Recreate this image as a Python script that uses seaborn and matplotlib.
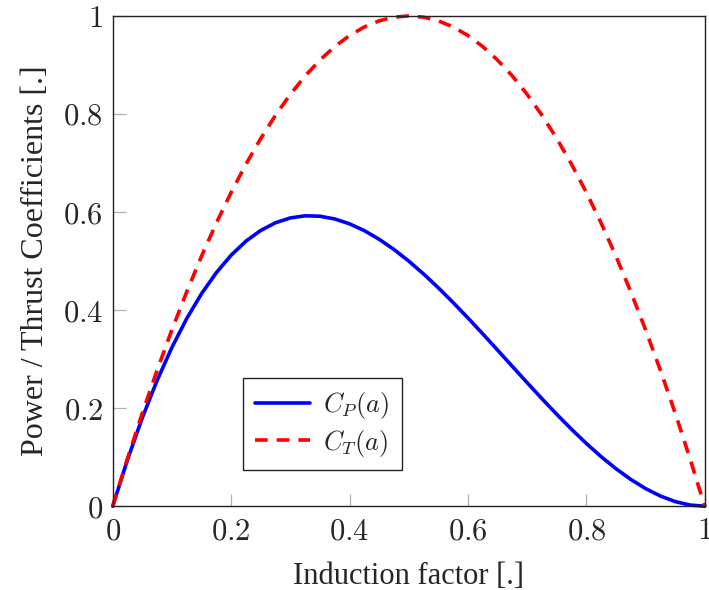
import matplotlib
matplotlib.use("Agg")
import matplotlib.pyplot as plt
import seaborn as sns
import pandas as pd

# induction factor samples
a_vals = [0, .025, .05, .075, .1, .125, .15, .175, .2, .225, .25, .275, .3, .325, .35,
          .375, .4, .425, .45, .475, .5, .525, .55, .575, .6, .625, .65, .675, .7, .725,
          .75, .775, .8, .825, .85, .875, .9, .925, .95, .975, 1]
cp_vals = [0, .0951, .1805, .2567, .324, .3828, .4335, .4764, .512, .5406, .5625, .5782,
           .588, .5923, .5915, .5859, .576, .5621, .5445, .5237, .5, .4738, .4455, .4154,
           .384, .3516, .3185, .2852, .252, .2193, .1875, .1569, .128, .1011, .0765, .0547,
           .036, .0208, .0095, .0024, 0]
ct_vals = [0, .0975, .19, .2775, .36, .4375, .51, .5775, .64, .6975, .75, .7975, .84, .8775,
           .91, .9375, .96, .9775, .99, .9975, 1, .9975, .99, .9775, .96, .9375, .91, .8775,
           .84, .7975, .75, .6975, .64, .5775, .51, .4375, .36, .2775, .19, .0975, 0]
x_ticks = [0, 0.2, 0.4, 0.6, 0.8, 1]
x_tick_labels = ["0", "0.2", "0.4", "0.6", "0.8", "1"]
y_ticks = [0, 0.2, 0.4, 0.6, 0.8, 1]
y_tick_labels = ["0", "0.2", "0.4", "0.6", "0.8", "1"]

sns.set_style("white")
plt.rcParams["mathtext.fontset"] = "cm"
plt.rcParams["font.family"] = ["Liberation Serif", "DejaVu Serif"]

fig = plt.figure(figsize=(7.09, 5.9), dpi=100)
ax = fig.add_axes([0.159, 0.142, 0.835, 0.831])

df = pd.DataFrame({"a": a_vals, "cp": cp_vals, "ct": ct_vals})
sns.lineplot(data=df, x="a", y="cp", ax=ax, color="#0000ff", lw=2.6,
             label=r"$C_P(a)$", clip_on=False)
sns.lineplot(data=df, x="a", y="ct", ax=ax, color="#ff0000", lw=2.6,
             label=r"$C_T(a)$", clip_on=False)
ax.lines[1].set_dashes([3.5, 2.5])

ax.set_xlim(0, 1)
ax.set_ylim(0, 1)
ax.set_xticks(x_ticks)
ax.set_xticklabels(["$%s$" % s for s in x_tick_labels])
ax.set_yticks(y_ticks)
ax.set_yticklabels(["$%s$" % s for s in y_tick_labels])
ax.tick_params(direction="in", length=9, width=0.9, color="#b0b0b0",
               labelsize=22, bottom=True, left=True, top=False, right=False)
ax.tick_params(axis="x", pad=8)
ax.tick_params(axis="y", pad=7)
for s in ax.spines.values():
    s.set_color("#222222")
    s.set_linewidth(1.0)

ax.set_xlabel("Induction factor [.]", fontsize=22, labelpad=11)
ax.set_ylabel("Power / Thrust Coefficients [.]", fontsize=23, labelpad=9)

leg = ax.legend(loc="lower left", bbox_to_anchor=(0.22, 0.073), borderaxespad=0,
                fontsize=19, frameon=True, fancybox=False, framealpha=1,
                edgecolor="#222222", handlelength=2.1, borderpad=0.45,
                labelspacing=0.25, handletextpad=0.5)
leg.get_frame().set_linewidth(1.0)

fig.savefig("out.png", dpi=100)
